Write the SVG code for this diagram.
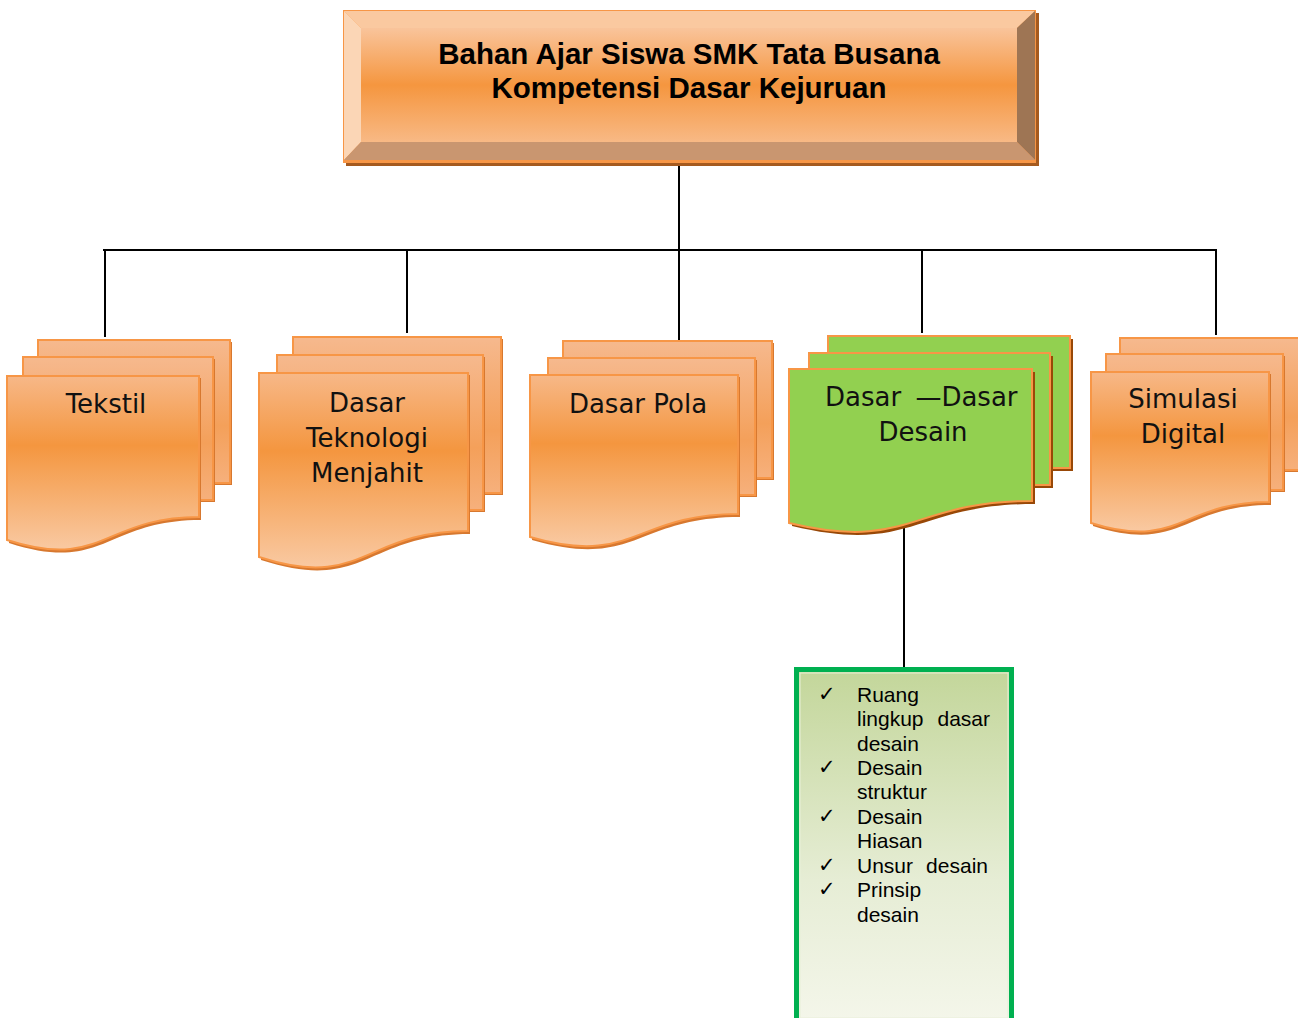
<svg xmlns="http://www.w3.org/2000/svg" width="1298" height="1018" viewBox="0 0 1298 1018">
<defs>
<linearGradient id="gTop" x1="0" y1="0" x2="0" y2="1">
<stop offset="0" stop-color="#F9C49B"/>
<stop offset="0.5" stop-color="#F5963F"/>
<stop offset="1" stop-color="#F8B985"/>
</linearGradient>
<linearGradient id="gFront" x1="0" y1="0" x2="0" y2="1">
<stop offset="0" stop-color="#F7B888"/>
<stop offset="0.4" stop-color="#F4963F"/>
<stop offset="1" stop-color="#F9C9A2"/>
</linearGradient>
<linearGradient id="gBack" x1="0" y1="0" x2="0" y2="1">
<stop offset="0" stop-color="#F6B98E"/>
<stop offset="0.6" stop-color="#F4A05A"/>
<stop offset="1" stop-color="#F6B07C"/>
</linearGradient>
<linearGradient id="gList" x1="0" y1="0" x2="0" y2="1">
<stop offset="0" stop-color="#C3D69A"/>
<stop offset="0.6" stop-color="#E6EDD5"/>
<stop offset="1" stop-color="#F4F6EA"/>
</linearGradient>
<style>
.pg{stroke:#F79646;stroke-width:2;}
.ob{fill:url(#gBack);}
.of{fill:url(#gFront);}
.gp{fill:#92D050;}
.sh{fill:#D7782F;}
.gsh{fill:#984807;}
.conn{stroke:#000;stroke-width:2;fill:none;}
.lbl{font-family:"DejaVu Sans",Verdana,sans-serif;font-size:26px;fill:#111;text-anchor:middle;}
.ttl{font-family:"Liberation Sans",Arial,sans-serif;font-size:29.5px;font-weight:bold;fill:#000;text-anchor:middle;}
.li{font-family:"Liberation Sans",Arial,sans-serif;font-size:21px;fill:#000;}
.ck{font-family:"DejaVu Sans",sans-serif;font-size:21px;fill:#000;}
</style>
</defs>
<rect width="1298" height="1018" fill="#FFFFFF"/>

<g id="connectors">
<line class="conn" x1="679" y1="153" x2="679" y2="340"/>
<line class="conn" x1="103" y1="250" x2="1217" y2="250"/>
<line class="conn" x1="105" y1="250" x2="105" y2="337"/>
<line class="conn" x1="407" y1="250" x2="407" y2="333"/>
<line class="conn" x1="922" y1="250" x2="922" y2="333"/>
<line class="conn" x1="1216" y1="250" x2="1216" y2="335"/>
<line class="conn" x1="904" y1="520" x2="904" y2="667"/>
</g>

<g id="title">
<rect x="346" y="13" width="693" height="153" fill="#A55A1F"/>
<rect x="343" y="10" width="693" height="153" fill="#F79646"/>
<polygon points="344,11 1035,11 1017,28 361,28" fill="#FAC9A0"/>
<polygon points="344,11 361,28 361,142 344,160" fill="#FBD6B6"/>
<polygon points="1035,11 1035,160 1017,142 1017,28" fill="#9E7554"/>
<polygon points="344,160 361,142 1017,142 1035,160" fill="#C99670"/>
<rect x="361" y="28" width="656" height="114" fill="url(#gTop)"/>
<text class="ttl" x="689" y="64">Bahan Ajar Siswa SMK Tata Busana</text>
<text class="ttl" x="689" y="98">Kompetensi Dasar Kejuruan</text>
</g>

<g id="tekstil">
<rect class="sh" x="40" y="342" width="192" height="143"/>
<rect class="pg ob" x="38" y="340" width="192" height="143"/>
<rect class="sh" x="25" y="359" width="190" height="143"/>
<rect class="pg ob" x="23" y="357" width="190" height="143"/>
<path class="sh" d="M9,378 H201 V520 C105,520 105,574 9,543 Z"/>
<path class="pg of" d="M7,376 H199 V517 C103,517 103,571 7,540 Z"/>
<text class="lbl" x="106" y="413">Tekstil</text>
</g>

<g id="dasar-teknologi-menjahit">
<rect class="sh" x="295" y="339" width="208" height="156"/>
<rect class="pg ob" x="293" y="337" width="208" height="156"/>
<rect class="sh" x="279" y="357" width="206" height="155"/>
<rect class="pg ob" x="277" y="355" width="206" height="155"/>
<path class="sh" d="M261,375 H470 V534 C365.5,534 365.5,594 261,560 Z"/>
<path class="pg of" d="M259,373 H468 V531 C363.5,531 363.5,591 259,557 Z"/>
<text class="lbl" x="367" y="412">Dasar</text>
<text class="lbl" x="367" y="447">Teknologi</text>
<text class="lbl" x="367" y="482">Menjahit</text>
</g>

<g id="dasar-pola">
<rect class="sh" x="565" y="343" width="209" height="137"/>
<rect class="pg ob" x="563" y="341" width="209" height="137"/>
<rect class="sh" x="550" y="360" width="207" height="137"/>
<rect class="pg ob" x="548" y="358" width="207" height="137"/>
<path class="sh" d="M532,377 H740 V517 C636,517 636,570 532,540 Z"/>
<path class="pg of" d="M530,375 H738 V514 C634,514 634,567 530,537 Z"/>
<text class="lbl" x="638" y="413">Dasar Pola</text>
</g>

<g id="dasar-dasar-desain">
<rect class="gsh" x="831" y="339" width="242" height="132"/>
<rect class="pg gp" x="828" y="336" width="242" height="132"/>
<rect class="gsh" x="812" y="356" width="241" height="132"/>
<rect class="pg gp" x="809" y="353" width="241" height="132"/>
<path class="gsh" d="M792,372 H1035 V504 C913.5,504 913.5,555 792,526 Z"/>
<path class="pg gp" d="M789,369 H1032 V501 C910.5,501 910.5,552 789,523 Z"/>
<text class="lbl" x="825" y="406" style="text-anchor:start;word-spacing:6px">Dasar —Dasar</text>
<text class="lbl" x="923" y="441">Desain</text>
</g>

<g id="simulasi-digital">
<rect class="sh" x="1122" y="340" width="182" height="132"/>
<rect class="pg ob" x="1120" y="338" width="182" height="132"/>
<rect class="sh" x="1108" y="356" width="177" height="136"/>
<rect class="pg ob" x="1106" y="354" width="177" height="136"/>
<path class="sh" d="M1093,374 H1271 V505 C1182,505 1182,554 1093,526 Z"/>
<path class="pg of" d="M1091,372 H1269 V502 C1180,502 1180,551 1091,523 Z"/>
<text class="lbl" x="1183" y="408">Simulasi</text>
<text class="lbl" x="1183" y="443">Digital</text>
</g>

<g id="list-box">
<rect x="796.5" y="669.5" width="215" height="352" fill="url(#gList)" stroke="#00B050" stroke-width="5"/>
<rect x="800" y="673" width="208" height="345" fill="none" stroke="#E8EFD8" stroke-width="1"/>
<text class="ck" x="818" y="701">✓</text>
<text class="li" x="857" y="702">Ruang</text>
<text class="li" x="857" y="726">lingkup</text>
<text class="li" x="990" y="726" style="text-anchor:end">dasar</text>
<text class="li" x="857" y="751">desain</text>
<text class="ck" x="818" y="774">✓</text>
<text class="li" x="857" y="775">Desain</text>
<text class="li" x="857" y="799">struktur</text>
<text class="ck" x="818" y="823">✓</text>
<text class="li" x="857" y="824">Desain</text>
<text class="li" x="857" y="848">Hiasan</text>
<text class="ck" x="818" y="872">✓</text>
<text class="li" x="857" y="873">Unsur</text>
<text class="li" x="988" y="873" style="text-anchor:end">desain</text>
<text class="ck" x="818" y="896">✓</text>
<text class="li" x="857" y="897">Prinsip</text>
<text class="li" x="857" y="922">desain</text>
</g>
</svg>
